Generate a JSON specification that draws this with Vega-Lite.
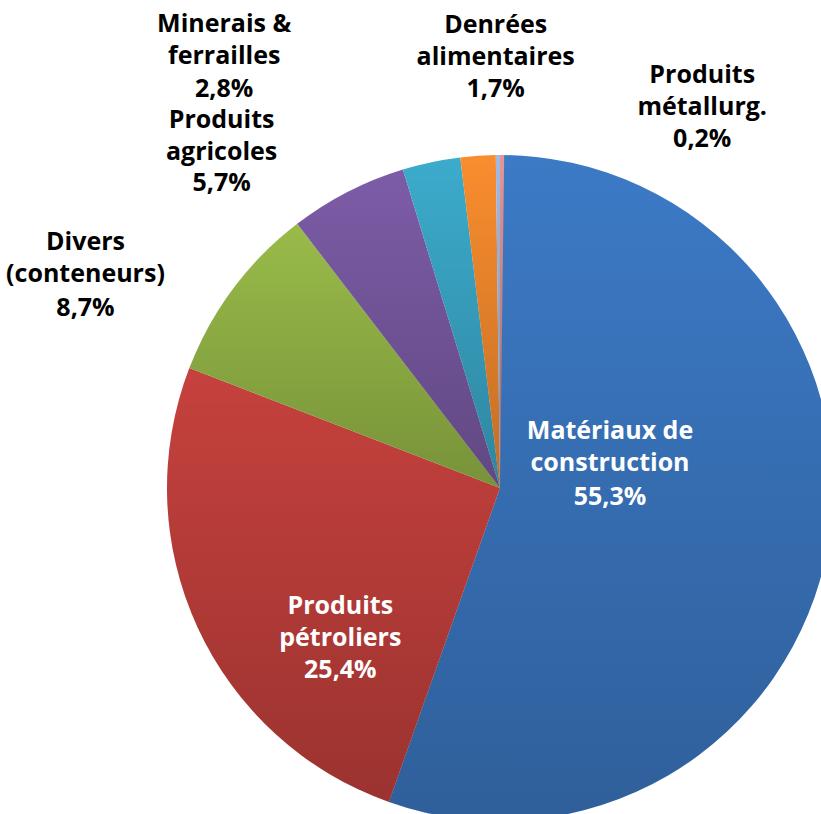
{
  "$schema": "https://vega.github.io/schema/vega-lite/v6.json",
  "autosize": {"type": "none"},
  "padding": {"left": 179, "top": 162, "right": 0, "bottom": 0},
  "width": 642,
  "height": 652,
  "background": "white",
  "data": {
    "values": [
      {"categorie": "Matériaux de\nconstruction", "part": 0.553},
      {"categorie": "Produits\npétroliers", "part": 0.254},
      {"categorie": "Divers\n(conteneurs)", "part": 0.087},
      {"categorie": "Produits\nagricoles", "part": 0.057},
      {"categorie": "Minerais &\nferrailles", "part": 0.028},
      {"categorie": "Denrées\nalimentaires", "part": 0.017},
      {"categorie": "Produits\nmétallurg.", "part": 0.002},
      {"categorie": "Autres", "part": 0.002}
    ]
  },
  "transform": [
    {"stack": "part", "groupby": [], "as": ["debut", "fin"]}
  ],
  "layer": [
    {
      "mark": {"type": "arc", "radius": 333},
      "encoding": {
        "theta": {"field": "debut", "type": "quantitative", "scale": {"nice": false, "zero": true}},
        "theta2": {"field": "fin"},
        "color": {
          "field": "categorie",
          "type": "nominal",
          "legend": null,
          "scale": {
            "domain": ["Matériaux de\nconstruction", "Produits\npétroliers", "Divers\n(conteneurs)", "Produits\nagricoles", "Minerais &\nferrailles", "Denrées\nalimentaires", "Produits\nmétallurg.", "Autres"],
            "range": ["#3C7AC6", "#C6413D", "#99BB49", "#7C5CA7", "#3CABCC", "#F98D2E", "#A3B8E3", "#E39795"]
          }
        }
      }
    },
    {
      "mark": {
        "type": "arc",
        "radius": 333,
        "fill": {
          "gradient": "linear", "x1": 0, "y1": 0, "x2": 0, "y2": 1,
          "stops": [
            {"offset": 0, "color": "rgba(0,0,0,0)"},
            {"offset": 1, "color": "rgba(0,0,0,0.22)"}
          ]
        }
      },
      "encoding": {
        "theta": {"field": "debut", "type": "quantitative"},
        "theta2": {"field": "fin"}
      }
    },
    {
      "transform": [{"filter": {"field": "categorie", "equal": "Matériaux de\nconstruction"}}],
      "mark": {"type": "text", "radius": 115, "dx": 110, "dy": 66, "fill": "white"},
      "encoding": {"theta": {"field": "debut", "type": "quantitative"}, "text": {"field": "categorie"}}
    },
    {
      "transform": [{"filter": {"field": "categorie", "equal": "Matériaux de\nconstruction"}}],
      "mark": {"type": "text", "radius": 115, "dx": 110, "dy": 132, "fill": "white"},
      "encoding": {"theta": {"field": "debut", "type": "quantitative"}, "text": {"field": "part", "type": "quantitative", "format": ".1%"}}
    },
    {
      "transform": [{"filter": {"field": "categorie", "equal": "Produits\npétroliers"}}],
      "mark": {"type": "text", "radius": 200, "dx": -93, "dy": -63, "fill": "white"},
      "encoding": {"theta": {"field": "debut", "type": "quantitative"}, "text": {"field": "categorie"}}
    },
    {
      "transform": [{"filter": {"field": "categorie", "equal": "Produits\npétroliers"}}],
      "mark": {"type": "text", "radius": 200, "dx": -93, "dy": 1, "fill": "white"},
      "encoding": {"theta": {"field": "debut", "type": "quantitative"}, "text": {"field": "part", "type": "quantitative", "format": ".1%"}}
    },
    {
      "transform": [{"filter": {"field": "categorie", "equal": "Divers\n(conteneurs)"}}],
      "mark": {"type": "text", "radius": 380, "dx": -60, "dy": -101, "fill": "black"},
      "encoding": {"theta": {"field": "debut", "type": "quantitative"}, "text": {"field": "categorie"}}
    },
    {
      "transform": [{"filter": {"field": "categorie", "equal": "Divers\n(conteneurs)"}}],
      "mark": {"type": "text", "radius": 380, "dx": -60, "dy": -35, "fill": "black"},
      "encoding": {"theta": {"field": "debut", "type": "quantitative"}, "text": {"field": "part", "type": "quantitative", "format": ".1%"}}
    },
    {
      "transform": [{"filter": {"field": "categorie", "equal": "Produits\nagricoles"}}],
      "mark": {"type": "text", "radius": 380, "dx": -47, "dy": -59, "fill": "black"},
      "encoding": {"theta": {"field": "debut", "type": "quantitative"}, "text": {"field": "categorie"}}
    },
    {
      "transform": [{"filter": {"field": "categorie", "equal": "Produits\nagricoles"}}],
      "mark": {"type": "text", "radius": 380, "dx": -47, "dy": 4, "fill": "black"},
      "encoding": {"theta": {"field": "debut", "type": "quantitative"}, "text": {"field": "part", "type": "quantitative", "format": ".1%"}}
    },
    {
      "transform": [{"filter": {"field": "categorie", "equal": "Minerais &\nferrailles"}}],
      "mark": {"type": "text", "radius": 380, "dx": -165, "dy": -93, "fill": "black"},
      "encoding": {"theta": {"field": "debut", "type": "quantitative"}, "text": {"field": "categorie"}}
    },
    {
      "transform": [{"filter": {"field": "categorie", "equal": "Minerais &\nferrailles"}}],
      "mark": {"type": "text", "radius": 380, "dx": -165, "dy": -28, "fill": "black"},
      "encoding": {"theta": {"field": "debut", "type": "quantitative"}, "text": {"field": "part", "type": "quantitative", "format": ".1%"}}
    },
    {
      "transform": [{"filter": {"field": "categorie", "equal": "Denrées\nalimentaires"}}],
      "mark": {"type": "text", "radius": 380, "dx": 41, "dy": -78, "fill": "black"},
      "encoding": {"theta": {"field": "debut", "type": "quantitative"}, "text": {"field": "categorie"}}
    },
    {
      "transform": [{"filter": {"field": "categorie", "equal": "Denrées\nalimentaires"}}],
      "mark": {"type": "text", "radius": 380, "dx": 41, "dy": -14, "fill": "black"},
      "encoding": {"theta": {"field": "debut", "type": "quantitative"}, "text": {"field": "part", "type": "quantitative", "format": ".1%"}}
    },
    {
      "transform": [{"filter": {"field": "categorie", "equal": "Produits\nmétallurg."}}],
      "mark": {"type": "text", "radius": 380, "dx": 207, "dy": -25, "fill": "black"},
      "encoding": {"theta": {"field": "debut", "type": "quantitative"}, "text": {"field": "categorie"}}
    },
    {
      "transform": [{"filter": {"field": "categorie", "equal": "Produits\nmétallurg."}}],
      "mark": {"type": "text", "radius": 380, "dx": 207, "dy": 39, "fill": "black"},
      "encoding": {"theta": {"field": "debut", "type": "quantitative"}, "text": {"field": "part", "type": "quantitative", "format": ".1%"}}
    }
  ],
  "config": {
    "view": {"stroke": null},
    "locale": {
      "number": {"decimal": ",", "thousands": "\u00a0", "grouping": [3], "currency": ["", "\u00a0€"]}
    },
    "text": {
      "font": "Open Sans",
      "fontSize": 25,
      "fontWeight": "bold",
      "align": "center",
      "baseline": "alphabetic",
      "lineBreak": "\n",
      "lineHeight": 32
    }
  }
}
